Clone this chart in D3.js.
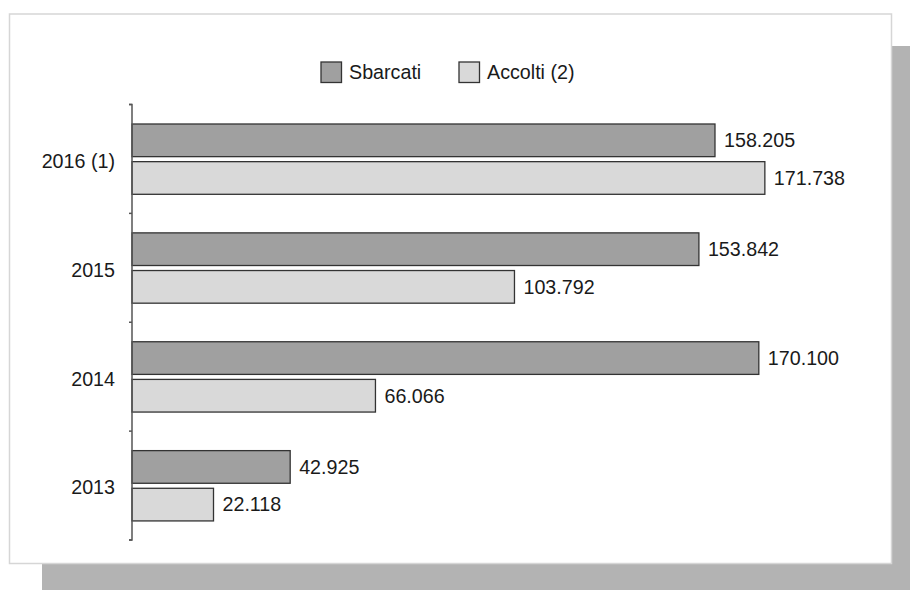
<!DOCTYPE html>
<html>
<head>
<meta charset="utf-8">
<script src="https://cdn.jsdelivr.net/npm/d3@7"></script>
<style>
  html, body { margin: 0; padding: 0; background: #ffffff; }
  svg { display: block; }
  text { font-family: "Liberation Sans", Arial, sans-serif; fill: #1a1a1a; }
</style>
</head>
<body>
<svg id="chart" width="910" height="590"></svg>
<script>
const categories = ["2016 (1)", "2015", "2014", "2013"];
const seriesNames = ["Sbarcati", "Accolti (2)"];
const sbarcati = [158205, 153842, 170100, 42925];
const accolti = [171738, 103792, 66066, 22118];
const seriesColors = ["#a0a0a0", "#d9d9d9"];

const values = [sbarcati, accolti];
const fmt = v => d3.format(",")(v).replace(/,/g, ".");

const svg = d3.select("#chart");

// shadow and panel
svg.append("rect").attr("x", 42).attr("y", 46).attr("width", 880).attr("height", 560).attr("fill", "#b3b3b3");
svg.append("rect").attr("x", 9.5).attr("y", 14).attr("width", 882).attr("height", 549.5)
  .attr("fill", "#ffffff").attr("stroke", "#d6d6d6").attr("stroke-width", 1.5);

const x0 = 132;
const x = d3.scaleLinear().domain([0, 200000]).range([x0, x0 + 737]);
const y = d3.scaleBand().domain(categories).range([104.5, 540]).paddingInner(0).paddingOuter(0);
const yInner = d3.scaleBand().domain(seriesNames).range([19.5, 89.8]).paddingInner(0.133).paddingOuter(0);

const g = svg.append("g");
categories.forEach((c, ci) => {
  seriesNames.forEach((s, si) => {
    const v = values[si][ci];
    const by = y(c) + yInner(s);
    g.append("rect")
      .attr("x", x(0)).attr("y", by)
      .attr("width", x(v) - x(0)).attr("height", yInner.bandwidth())
      .attr("fill", seriesColors[si]).attr("stroke", "#333333").attr("stroke-width", 1.3);
    g.append("text")
      .attr("x", x(v) + 9).attr("y", by + yInner.bandwidth() / 2)
      .attr("dy", "0.35em").attr("font-size", "19.7px")
      .text(fmt(v));
  });
});

// axis
const axis = d3.axisLeft(y).tickSize(0).tickPadding(17);
const ag = svg.append("g").attr("transform", `translate(${x0},0)`).call(axis);
ag.select(".domain").attr("stroke", "#555555").attr("stroke-width", 1.5)
  .attr("d", `M-3,104.5H0V540H-3`);
ag.selectAll(".tick text").attr("font-size", "19.7px").attr("fill", "#1a1a1a")
  .attr("font-family", "Liberation Sans, Arial, sans-serif").attr("dy", "0.45em");
// boundary ticks
const bounds = categories.map(c => y(c)).concat([y.range()[1]]);
ag.selectAll(".bound").data(bounds).enter().append("line")
  .attr("x1", -3).attr("x2", 0).attr("y1", d => d).attr("y2", d => d)
  .attr("stroke", "#555555").attr("stroke-width", 1.5);

// legend
const legendX = [321, 459];
seriesNames.forEach((s, i) => {
  svg.append("rect").attr("x", legendX[i]).attr("y", 62).attr("width", 20.5).attr("height", 20.5)
    .attr("fill", seriesColors[i]).attr("stroke", "#333333").attr("stroke-width", 1.3);
  svg.append("text").attr("x", legendX[i] + 28).attr("y", 72.5).attr("dy", "0.35em")
    .attr("font-size", "19.7px").text(s);
});
</script>
</body>
</html>
